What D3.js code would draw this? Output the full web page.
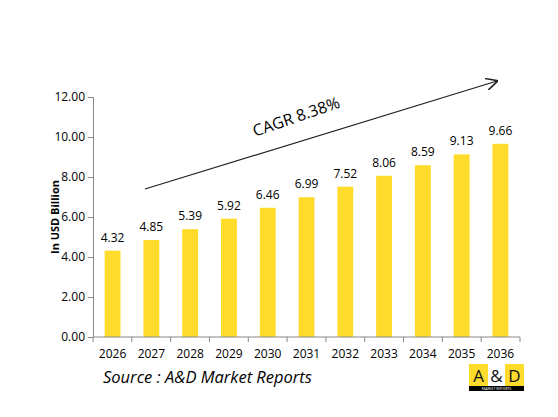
<!DOCTYPE html>
<html>
<head>
<meta charset="utf-8">
<title>Market size</title>
<style>
  body { margin: 0; background: #fff; }
  text { font-family: "Open Sans", "Liberation Sans", sans-serif; }
</style>
</head>
<body>
<script src="https://d3js.org/d3.v7.min.js"></script>
<script>
	var years = ["2026", "2027", "2028", "2029", "2030", "2031", "2032", "2033", "2034", "2035", "2036"];
	var values = [4.32, 4.85, 5.39, 5.92, 6.46, 6.99, 7.52, 8.06, 8.59, 9.13, 9.66];
	var yTicks = [0, 2, 4, 6, 8, 10, 12];
	var cagr = "CAGR 8.38%";

	var w = 558, h = 417;
	var svg = d3.select("body").append("svg")
			.attr("width", w)
			.attr("height", h);

	var x = d3.scaleBand().domain(years).range([93, 520]).paddingInner(0.59).paddingOuter(0.3);
	var y = d3.scaleLinear().domain([0, 12]).range([337, 97]);

	// y axis
	var yAxis = svg.append("g")
			.attr("transform", "translate(93,0)")
			.call(d3.axisLeft(y).tickValues(yTicks).tickSize(5).tickFormat(d3.format(".2f")));
	yAxis.select(".domain").attr("stroke", "#888");
	yAxis.selectAll(".tick line").attr("stroke", "#888");
	yAxis.selectAll("text").attr("font-size", 12).attr("fill", "#000").attr("x", -8);

	// bars
	svg.selectAll("rect.bar")
		.data(values)
		.enter()
		.append("rect")
			.attr("class", "bar")
			.attr("x", function(d, i) { return x(years[i]) })
			.attr("y", function(d) { return y(d) })
			.attr("width", x.bandwidth())
			.attr("height", function(d) { return y(0) - y(d) })
			.attr("fill", "#FFDC2C");

	svg.selectAll("text.val")
		.data(values)
		.enter()
		.append("text")
			.attr("class", "val")
			.attr("x", function(d, i) { return x(years[i]) + x.bandwidth() / 2 })
			.attr("y", function(d) { return y(d) - 9 })
			.attr("text-anchor", "middle")
			.attr("font-size", 12)
			.text(function(d) { return d.toFixed(2) });

	// x axis with ticks between categories
	var xg = svg.append("g");
	xg.append("line")
		.attr("x1", 93).attr("x2", 520)
		.attr("y1", y(0)).attr("y2", y(0))
		.attr("stroke", "#888");
	var edges = d3.range(years.length + 1).map(function(i) { return 93 + i * (520 - 93) / years.length });
	xg.selectAll("line.tk")
		.data(edges)
		.enter()
		.append("line")
			.attr("class", "tk")
			.attr("x1", function(d) { return d }).attr("x2", function(d) { return d })
			.attr("y1", y(0)).attr("y2", y(0) + 5)
			.attr("stroke", "#888");
	xg.selectAll("text")
		.data(years)
		.enter()
		.append("text")
			.attr("x", function(d) { return x(d) + x.bandwidth() / 2 })
			.attr("y", 358)
			.attr("text-anchor", "middle")
			.attr("font-size", 12)
			.text(function(d) { return d });

	// axis title
	svg.append("text")
		.attr("transform", "translate(59,217) rotate(-90)")
		.attr("text-anchor", "middle")
		.attr("font-size", 11)
		.attr("font-weight", "bold")
		.text("In USD Billion");

	// CAGR arrow
	var defs = svg.append("defs");
	defs.append("marker")
		.attr("id", "arr")
		.attr("viewBox", "0 0 10 10")
		.attr("refX", 9).attr("refY", 5)
		.attr("markerWidth", 12).attr("markerHeight", 12)
		.attr("markerUnits", "userSpaceOnUse")
		.attr("orient", "auto")
		.append("path")
			.attr("d", "M0,0 L10,5 L0,10")
			.attr("fill", "none")
			.attr("stroke", "#222")
			.attr("stroke-width", 1.3);
	svg.append("line")
		.attr("x1", 145).attr("y1", 189)
		.attr("x2", 497).attr("y2", 81)
		.attr("stroke", "#222")
		.attr("stroke-width", 1.3)
		.attr("marker-end", "url(#arr)");
	svg.append("text")
		.attr("transform", "translate(298,122) rotate(-19)")
		.attr("text-anchor", "middle")
		.attr("font-size", 16)
		.text(cagr);

	// source
	svg.append("text")
		.attr("x", 103).attr("y", 383)
		.attr("font-size", 16.5)
		.attr("font-style", "italic")
		.text("Source : A&D Market Reports");

	// logo
	var logo = svg.append("g").attr("transform", "translate(469,364)");
	logo.append("rect").attr("width", 55).attr("height", 27).attr("fill", "#000");
	logo.append("rect").attr("x", 0).attr("width", 19).attr("height", 22).attr("fill", "#FFDC2C");
	logo.append("rect").attr("x", 19).attr("width", 17).attr("height", 22).attr("fill", "#fff");
	logo.append("rect").attr("x", 36).attr("width", 19).attr("height", 22).attr("fill", "#FFDC2C");
	logo.selectAll("text.lg")
		.data([["A", 9.5], ["&", 27.5], ["D", 45.5]])
		.enter()
		.append("text")
			.attr("class", "lg")
			.attr("x", function(d) { return d[1] })
			.attr("y", 17.5)
			.attr("text-anchor", "middle")
			.attr("font-size", 17)
			.attr("fill", "#111")
			.text(function(d) { return d[0] });
	logo.append("text")
		.attr("x", 27.5).attr("y", 26)
		.attr("text-anchor", "middle")
		.attr("font-size", 3.5)
		.attr("fill", "#fff")
		.text("MARKET REPORTS");
</script>
</body>
</html>
